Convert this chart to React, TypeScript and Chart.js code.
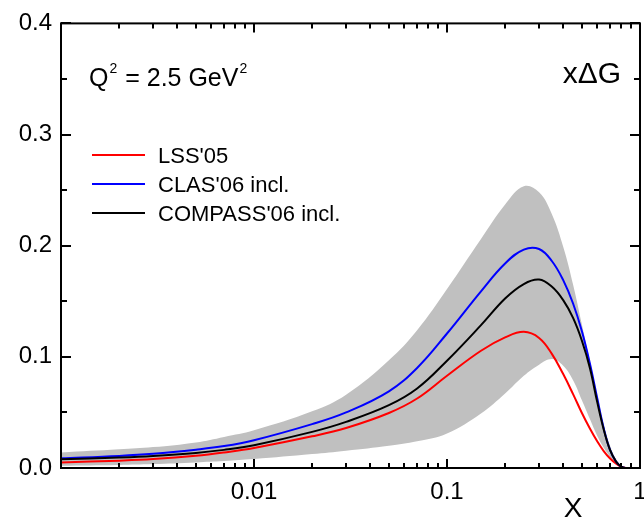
import React, { useEffect, useRef } from "react";
import { Chart, registerables } from "chart.js";

Chart.register(...registerables);

// ---- data ----
const X_VALUES = [0.001, 0.002, 0.003, 0.005, 0.007, 0.01, 0.02, 0.03, 0.05, 0.07, 0.1, 0.15, 0.2, 0.25, 0.3, 0.35, 0.4, 0.45, 0.5, 0.55, 0.6, 0.65, 0.7, 0.75, 0.8, 0.85, 0.9];
const CLAS06 = [0.0088, 0.0109, 0.0128, 0.0165, 0.0197, 0.025, 0.0395, 0.05, 0.069, 0.09, 0.121, 0.159, 0.184, 0.1965, 0.197, 0.186, 0.169, 0.148, 0.123, 0.094, 0.063, 0.035, 0.016, 0.006, 0.0012, 0, 0];
const COMPASS06 = [0.0078, 0.0095, 0.0109, 0.0136, 0.0163, 0.0205, 0.0325, 0.0415, 0.0565, 0.0715, 0.0965, 0.1285, 0.1525, 0.1655, 0.1695, 0.163, 0.151, 0.135, 0.1145, 0.09, 0.0595, 0.034, 0.016, 0.006, 0.0012, 0, 0];
const LSS05 = [0.005, 0.0066, 0.008, 0.011, 0.014, 0.018, 0.0285, 0.036, 0.0495, 0.0625, 0.083, 0.1055, 0.1175, 0.1225, 0.117, 0.1025, 0.0845, 0.0665, 0.0495, 0.0355, 0.024, 0.015, 0.0085, 0.004, 0.001, 0, 0];
const BAND_UPPER = [0.014, 0.0168, 0.0188, 0.023, 0.028, 0.034, 0.051, 0.066, 0.097, 0.124, 0.161, 0.206, 0.237, 0.2535, 0.248, 0.228, 0.199, 0.165, 0.129, 0.096, 0.066, 0.039, 0.02, 0.008, 0.0015, 0, 0];
const BAND_LOWER = [0.002, 0.0027, 0.0035, 0.005, 0.0062, 0.008, 0.0125, 0.0155, 0.02, 0.024, 0.031, 0.049, 0.067, 0.083, 0.093, 0.098, 0.092, 0.079, 0.061, 0.044, 0.029, 0.018, 0.01, 0.0045, 0.001, 0, 0];

const SERIES_LABELS = ["LSS'05", "CLAS'06 incl.", "COMPASS'06 incl."];
const SERIES_COLORS = ["#ff0000", "#0000ff", "#000000"];
const X_TICK_LABELS = [0.01, 0.1, 1];
const Y_TICK_STEP = 0.1;
const Y_MINOR_STEP = 0.05;

const FONT = "'Liberation Sans', Arial, sans-serif";

const toPoints = (ys: number[]) => X_VALUES.map((x, i) => ({ x, y: ys[i] }));

const decoPlugin = {
  id: "deco",
  afterDatasetsDraw(chart: any) {
    const { ctx, chartArea: a } = chart;
    const xs = chart.scales.x;
    const ys = chart.scales.y;
    ctx.save();
    ctx.strokeStyle = "#000";
    ctx.lineWidth = 2;
    ctx.strokeRect(a.left, a.top, a.right - a.left, a.bottom - a.top);

    // log x ticks, inward on bottom and top
    ctx.beginPath();
    for (let d = -3; d < 0; d++) {
      const base = Math.pow(10, d);
      for (let m = 1; m <= 9; m++) {
        const v = base * m;
        const px = Math.round(xs.getPixelForValue(v));
        const len = m === 1 ? 9 : 5;
        ctx.moveTo(px, a.bottom);
        ctx.lineTo(px, a.bottom - len);
        ctx.moveTo(px, a.top);
        ctx.lineTo(px, a.top + len);
      }
    }
    // y ticks, inward on left and right
    for (let v = 0; v <= 0.4001; v += Y_MINOR_STEP) {
      const py = Math.round(ys.getPixelForValue(v));
      const major = Math.abs(v / Y_TICK_STEP - Math.round(v / Y_TICK_STEP)) < 1e-6;
      const len = major ? 10 : 6;
      ctx.moveTo(a.left, py);
      ctx.lineTo(a.left + len, py);
      ctx.moveTo(a.right, py);
      ctx.lineTo(a.right - len, py);
    }
    ctx.stroke();

    // x tick labels
    ctx.fillStyle = "#000";
    ctx.font = `24px ${FONT}`;
    ctx.textAlign = "center";
    ctx.textBaseline = "alphabetic";
    for (const v of X_TICK_LABELS) {
      ctx.fillText(String(v), xs.getPixelForValue(v), a.bottom + 31);
    }

    // x axis title
    ctx.font = `28px ${FONT}`;
    ctx.fillText("X", 573, 517);

    // Q^2 annotation
    ctx.textAlign = "left";
    ctx.font = `25px ${FONT}`;
    let cx = 89;
    const by = 86;
    ctx.fillText("Q", cx, by);
    cx += ctx.measureText("Q").width + 1;
    ctx.font = `14px ${FONT}`;
    ctx.fillText("2", cx, by - 13);
    cx += ctx.measureText("2").width + 1;
    ctx.font = `25px ${FONT}`;
    ctx.fillText(" = 2.5 GeV", cx, by);
    cx += ctx.measureText(" = 2.5 GeV").width + 1;
    ctx.font = `14px ${FONT}`;
    ctx.fillText("2", cx, by - 13);

    // x Delta G
    ctx.textAlign = "right";
    ctx.font = `30px ${FONT}`;
    ctx.fillText("x\u0394G", 621, 83);

    // legend
    ctx.textAlign = "left";
    ctx.font = `22px ${FONT}`;
    const ly = [155, 184, 213];
    SERIES_LABELS.forEach((lab, i) => {
      ctx.strokeStyle = SERIES_COLORS[i];
      ctx.lineWidth = 2;
      ctx.beginPath();
      ctx.moveTo(92, ly[i]);
      ctx.lineTo(145, ly[i]);
      ctx.stroke();
      ctx.fillText(lab, 158, ly[i] + 8);
    });
    ctx.restore();
  },
};

export default function App() {
  const ref = useRef<HTMLCanvasElement | null>(null);
  useEffect(() => {
    if (!ref.current) return;
    const lineDs = (label: string, ys: number[], color: string, order: number) => ({
      label,
      data: toPoints(ys),
      borderColor: color,
      backgroundColor: color,
      borderWidth: 2,
      pointRadius: 0,
      fill: false,
      tension: 0.4,
      order,
    });
    const chart = new Chart(ref.current, {
      type: "line",
      data: {
        datasets: [
          {
            label: "band upper",
            data: toPoints(BAND_UPPER),
            borderWidth: 0,
            borderColor: "rgba(0,0,0,0)",
            backgroundColor: "#c0c0c0",
            pointRadius: 0,
            fill: "+1",
            tension: 0.4,
            order: 10,
          },
          {
            label: "band lower",
            data: toPoints(BAND_LOWER),
            borderWidth: 0,
            borderColor: "rgba(0,0,0,0)",
            backgroundColor: "#c0c0c0",
            pointRadius: 0,
            fill: false,
            tension: 0.4,
            order: 9,
          },
          lineDs(SERIES_LABELS[0], LSS05, SERIES_COLORS[0], 3),
          lineDs(SERIES_LABELS[1], CLAS06, SERIES_COLORS[1], 2),
          lineDs(SERIES_LABELS[2], COMPASS06, SERIES_COLORS[2], 1),
        ],
      },
      options: {
        responsive: false,
        animation: false,
        devicePixelRatio: 1,
        layout: { padding: { left: 0, right: 4, top: 22, bottom: 0 } },
        plugins: { legend: { display: false }, tooltip: { enabled: false } },
        scales: {
          x: {
            type: "logarithmic",
            min: 0.001,
            max: 1,
            grid: { display: false, drawTicks: false },
            border: { display: false },
            ticks: { display: false },
            afterFit: (s: any) => {
              s.height = 49;
            },
          },
          y: {
            min: 0,
            max: 0.4,
            grid: { display: false, drawTicks: false },
            border: { display: false },
            ticks: {
              stepSize: Y_TICK_STEP,
              padding: 9,
              color: "#000",
              font: { family: FONT, size: 24 },
              callback: (v: any) => Number(v).toFixed(1),
            },
            afterFit: (s: any) => {
              s.width = 61;
            },
          },
        },
      },
      plugins: [decoPlugin],
    } as any);
    return () => chart.destroy();
  }, []);
  return (
    <div style={{ position: "fixed", left: 0, top: 0, width: 644, height: 517, background: "#fff" }}>
      <canvas ref={ref} width={644} height={517} />
    </div>
  );
}
